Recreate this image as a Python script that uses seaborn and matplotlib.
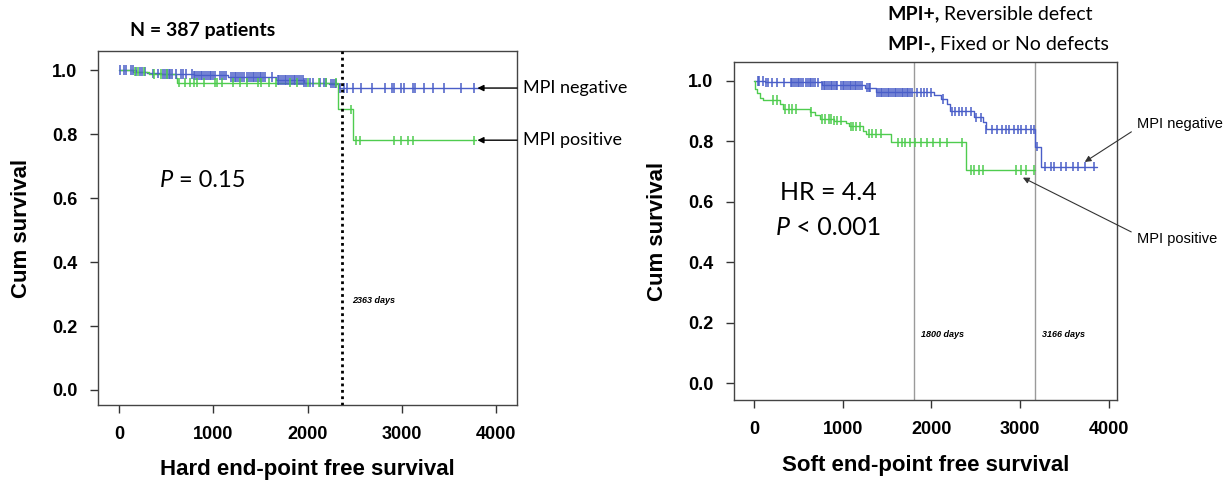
import numpy as np
import pandas as pd
import matplotlib
matplotlib.use('Agg')
import matplotlib.pyplot as plt
import matplotlib.transforms as mtransforms
import seaborn as sns

# ---- Hard end-point (left panel) ----
hard_neg_t = [0, 185, 298, 450, 791, 1151, 1662, 1965, 2230, 2330, 3821]
hard_neg_s = [1.0, 0.995, 0.99, 0.9875, 0.984, 0.979, 0.969, 0.961, 0.958, 0.944, 0.944]
hard_pos_t = [0, 150, 317, 601, 620, 2325, 2476, 3783]
hard_pos_s = [1.0, 0.995, 0.9875, 0.977, 0.961, 0.878, 0.781, 0.781]

hard_neg_cens = [15, 52, 71, 128, 147, 185, 223, 242, 280, 355, 412, 469, 488, 507, 526, 545,
                 564, 601, 658, 677, 715, 772, 791, 810, 829, 848, 866, 885, 904, 923, 942, 961,
                 980, 999, 1018, 1075, 1094, 1113, 1132, 1188, 1207, 1226, 1245, 1264, 1283,
                 1302, 1321, 1359, 1378, 1397, 1416, 1434, 1453, 1472, 1491, 1510, 1529, 1548,
                 1624, 1681, 1700, 1719, 1737, 1756, 1775, 1794, 1813, 1832, 1851, 1870, 1889,
                 1908, 1927, 1946, 1965, 1984, 2021, 2059, 2135, 2173, 2192, 2249, 2268, 2287,
                 2306, 2343, 2381, 2419, 2476, 2571, 2684, 2817, 2892, 2911, 2987, 3024, 3120,
                 3139, 3233, 3328, 3442, 3631, 3763]
hard_pos_cens = [166, 204, 261, 374, 450, 507, 639, 696, 753, 791, 829, 904, 1018, 1037, 1094,
                 1207, 1283, 1359, 1472, 1510, 1586, 1662, 1813, 1889, 2003, 2116, 2192, 2306,
                 2457, 2514, 2552, 2911, 2987, 3063, 3120, 3763]

# ---- Soft end-point (right panel) ----
soft_neg_t = [0, 121, 765, 1253, 1370, 2034, 2112, 2170, 2209, 2482, 2580, 2611, 3166, 3236, 3868]
soft_neg_s = [1.0, 0.995, 0.986, 0.978, 0.962, 0.953, 0.94, 0.925, 0.899, 0.88, 0.865, 0.84,
              0.782, 0.716, 0.716]
soft_pos_t = [0, 10, 40, 70, 100, 297, 324, 628, 687, 745, 902, 1038, 1066, 1233, 1261, 1546,
              2385, 3166]
soft_pos_s = [1.0, 0.975, 0.96, 0.945, 0.937, 0.925, 0.907, 0.897, 0.886, 0.874, 0.868, 0.86,
              0.85, 0.835, 0.826, 0.797, 0.705, 0.705]

soft_neg_cens = [43, 62, 101, 141, 160, 199, 258, 336, 414, 433, 453, 472, 492, 511, 531, 550,
                 589, 609, 628, 648, 668, 687, 726, 765, 785, 804, 824, 843, 863, 882, 902, 921,
                 941, 980, 999, 1019, 1038, 1058, 1077, 1097, 1116, 1136, 1155, 1175, 1194, 1214,
                 1272, 1292, 1311, 1390, 1409, 1429, 1448, 1468, 1487, 1507, 1526, 1546, 1565,
                 1585, 1604, 1624, 1643, 1663, 1682, 1702, 1721, 1741, 1760, 1780, 1838, 1877,
                 1916, 1955, 1994, 2131, 2229, 2268, 2307, 2346, 2385, 2443, 2502, 2560, 2619,
                 2677, 2736, 2795, 2834, 2873, 2931, 2970, 3009, 3068, 3126, 3160, 3185, 3282,
                 3341, 3380, 3458, 3517, 3595, 3653, 3731, 3829]
soft_pos_cens = [219, 258, 355, 394, 433, 472, 648, 765, 804, 843, 870, 902, 941, 980, 1089, 1116,
                 1155, 1194, 1292, 1331, 1370, 1429, 1624, 1663, 1702, 1760, 1819, 1877, 1955,
                 2014, 2092, 2170, 2346, 2443, 2482, 2541, 2580, 2951, 3009, 3068, 3158]

groups = ['MPI negative', 'MPI positive']
palette = {'MPI negative': '#4a5ec8', 'MPI positive': '#4fcc4f'}


def curve_frames(neg_t, neg_s, pos_t, pos_s, neg_c, pos_c):
    steps = pd.concat([
        pd.DataFrame({'time': neg_t, 'surv': neg_s, 'group': groups[0]}),
        pd.DataFrame({'time': pos_t, 'surv': pos_s, 'group': groups[1]}),
    ])
    # censor marks sit on the step curve
    def on_curve(t, s, c):
        idx = np.searchsorted(t, c, side='right') - 1
        return np.asarray(s)[idx]
    cens = pd.concat([
        pd.DataFrame({'time': neg_c, 'surv': on_curve(neg_t, neg_s, neg_c), 'group': groups[0]}),
        pd.DataFrame({'time': pos_c, 'surv': on_curve(pos_t, pos_s, pos_c), 'group': groups[1]}),
    ])
    return steps, cens


def km_panel(ax, steps, cens, xlabel):
    sns.lineplot(data=steps, x='time', y='surv', hue='group', palette=palette,
                 drawstyle='steps-post', estimator=None, sort=False, legend=False,
                 linewidth=1.0, ax=ax)
    sns.scatterplot(data=cens, x='time', y='surv', hue='group', palette=palette,
                    marker='|', s=45, linewidth=1.1, legend=False, ax=ax, zorder=3)
    ax.set_xticks([0, 1000, 2000, 3000, 4000])
    ax.set_yticks([0.0, 0.2, 0.4, 0.6, 0.8, 1.0])
    ax.set_yticklabels(['0.0', '0.2', '0.4', '0.6', '0.8', '1.0'])
    ax.tick_params(axis='both', direction='out', length=6, width=1, color='#333333',
                   labelcolor='black', labelsize=13, pad=9)
    for lab in ax.get_xticklabels() + ax.get_yticklabels():
        lab.set_fontweight('bold')
        lab.set_family('Liberation Sans')
    ax.set_xlabel(xlabel, fontsize=16, fontweight='bold', family='Liberation Sans',
                  labelpad=12, color='black')
    ax.set_ylabel('Cum survival', fontsize=16, fontweight='bold', family='Liberation Sans',
                  labelpad=14, color='black')
    for sp in ax.spines.values():
        sp.set_color('#444444')
        sp.set_linewidth(1.0)


def italic_p(ax, x, y, rest, size):
    # italic P followed by the rest of the statistic in upright type
    tp = ax.text(x, y, 'P', fontsize=size, fontstyle='italic', va='baseline', color='black')
    ax.annotate(rest, xy=(1, 0), xycoords=tp, fontsize=size, va='bottom', ha='left',
                color='black')


sns.set_style('ticks')
plt.rcParams['font.family'] = ['Lato', 'DejaVu Sans']
plt.rcParams['text.color'] = 'black'

fig = plt.figure(figsize=(12.28, 4.83), dpi=100)
ax1 = fig.add_axes([0.0798, 0.1615, 0.3412, 0.733])
ax2 = fig.add_axes([0.5977, 0.1718, 0.3119, 0.70])

# left panel
steps, cens = curve_frames(hard_neg_t, hard_neg_s, hard_pos_t, hard_pos_s,
                           hard_neg_cens, hard_pos_cens)
km_panel(ax1, steps, cens, 'Hard end-point free survival')
ax1.set_xlim(-223, 4220)
ax1.set_ylim(-0.047, 1.06)
ax1.axvline(2363, color='black', linestyle=(0, (1, 1.3)), linewidth=2.0, zorder=4)
ax1.text(2470, 0.28, '2363 days', fontsize=6.5, fontstyle='italic', fontweight='bold',
         family='Liberation Sans', va='center')
italic_p(ax1, 430, 0.635, ' = 0.15', 17)

blend1 = mtransforms.blended_transform_factory(ax1.transAxes, ax1.transData)
for y, lab in [(0.944, 'MPI negative'), (0.781, 'MPI positive')]:
    ax1.annotate('', xy=(3800, y), xytext=(1.0, y), textcoords=('axes fraction', 'data'),
                 arrowprops=dict(arrowstyle='-|>', color='black', lw=1.0,
                                 mutation_scale=9, shrinkA=0, shrinkB=0))
    ax1.text(1.015, y, lab, transform=blend1, fontsize=13, va='center', ha='left')

fig.text(0.106, 0.936, 'N = 387 patients', fontsize=14, fontweight='bold', va='center')

# right panel
steps, cens = curve_frames(soft_neg_t, soft_neg_s, soft_pos_t, soft_pos_s,
                           soft_neg_cens, soft_pos_cens)
km_panel(ax2, steps, cens, 'Soft end-point free survival')
ax2.set_xlim(-225, 4090)
ax2.set_ylim(-0.056, 1.063)
for xv in [1800, 3166]:
    ax2.axvline(xv, color='#9a9a9a', linewidth=1.0, zorder=1)
ax2.text(1880, 0.16, '1800 days', fontsize=6.5, fontstyle='italic', fontweight='bold',
         family='Liberation Sans', va='center')
ax2.text(3240, 0.16, '3166 days', fontsize=6.5, fontstyle='italic', fontweight='bold',
         family='Liberation Sans', va='center')
ax2.text(290, 0.63, 'HR = 4.4', fontsize=18, va='center')
italic_p(ax2, 250, 0.49, ' < 0.001', 18)

ax2.annotate('MPI negative', xy=(3727, 0.732), xytext=(1137 / 1228, 1 - 124 / 483),
             textcoords='figure fraction', fontsize=10.5, family='Liberation Sans',
             ha='left', va='center',
             arrowprops=dict(arrowstyle='-|>', color='#333333', lw=0.8, mutation_scale=9,
                             relpos=(0, 0.2), shrinkA=2, shrinkB=0))
ax2.annotate('MPI positive', xy=(3030, 0.68), xytext=(1137 / 1228, 1 - 239 / 483),
             textcoords='figure fraction', fontsize=10.5, family='Liberation Sans',
             ha='left', va='center',
             arrowprops=dict(arrowstyle='-|>', color='#333333', lw=0.8, mutation_scale=9,
                             relpos=(0, 0.8), shrinkA=2, shrinkB=0))

t1 = fig.text(887 / 1228, 1 - 14 / 483, 'MPI+,', fontsize=14, fontweight='bold', va='center')
ax2.annotate(' Reversible defect', xy=(1, 0), xycoords=t1, fontsize=14, va='bottom', ha='left')
t2 = fig.text(887 / 1228, 1 - 44 / 483, 'MPI-,', fontsize=14, fontweight='bold', va='center')
ax2.annotate(' Fixed or No defects', xy=(1, 0), xycoords=t2, fontsize=14, va='bottom',
             ha='left')

fig.savefig('out.png', dpi=100)
